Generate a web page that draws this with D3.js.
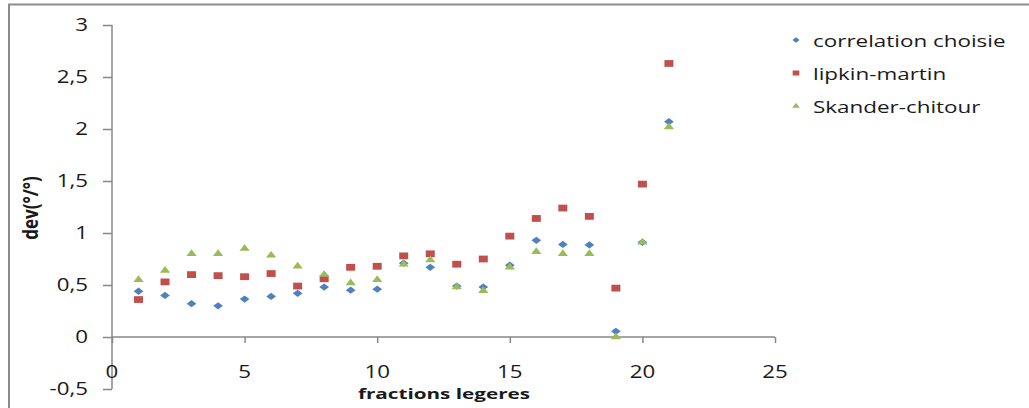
<!DOCTYPE html>
<html>
<head>
<meta charset="utf-8">
<script src="https://cdn.jsdelivr.net/npm/d3@7"></script>
<style>
  html, body { margin: 0; padding: 0; background: #fff; }
  svg { display: block; }
  text { font-family: "Open Sans", "Liberation Sans", sans-serif; fill: #1a1a1a; }
</style>
</head>
<body>
<svg id="chart" width="1029" height="408"></svg>
<script>
// Fraction numbers (x) shared by all three series
const fractions = [1,2,3,4,5,6,7,8,9,10,11,12,13,14,15,16,17,18,19,20,21];

// Deviation values per correlation
const correlationChoisie = [0.44,0.40,0.32,0.30,0.365,0.39,0.42,0.48,0.45,0.46,0.71,0.67,0.49,0.48,0.69,0.93,0.89,0.885,0.055,0.91,2.07];
const lipkinMartin       = [0.36,0.53,0.60,0.59,0.58,0.61,0.49,0.56,0.67,0.68,0.78,0.80,0.70,0.75,0.97,1.14,1.24,1.16,0.47,1.47,2.63];
const skanderChitour     = [0.55,0.64,0.80,0.80,0.85,0.785,0.68,0.60,0.52,0.55,0.70,0.74,0.48,0.445,0.67,0.82,0.80,0.80,0.00,0.91,2.02];

const seriesNames = ["correlation choisie", "lipkin-martin", "Skander-chitour"];

// Axis tick values
const xTicks = [0,5,10,15,20,25];
const yTicks = [-0.5,0,0.5,1,1.5,2,2.5,3];

const colors = ["#4F81BD", "#C0504D", "#9BBB59"];
const shapes = [d3.symbolDiamond2, d3.symbolSquare, d3.symbolTriangle];
const sizes  = [34, 46, 26];
const markerStretch = 1.33;   // markers are drawn wider than tall

const svg = d3.select("#chart");
const axisColor = "#878787";

// Widen text glyphs horizontally while keeping the anchor point in place
function stretch(sel, sx) {
  sel.each(function () {
    const t = d3.select(this);
    const x0 = +t.attr("x") || 0;
    t.attr("x", x0 / sx);
    const tr = t.attr("transform") || "";
    t.attr("transform", (tr + ` scale(${sx},1)`).trim());
  });
}

// Outer frame (top and left edges)
svg.append("path")
  .attr("d", "M9,408 V4.5 H1029")
  .attr("fill", "none")
  .attr("stroke", "#8c8c8c")
  .attr("stroke-width", 2);

const x = d3.scaleLinear().domain([0, 25]).range([112, 775]);
const y = d3.scaleLinear().domain([-0.5, 3]).range([389, 25]);

const fmt = v => String(v).replace(".", ",");

// Y axis
const yAxis = svg.append("g")
  .attr("transform", `translate(${x(0)},0)`)
  .call(d3.axisLeft(y).tickValues(yTicks).tickSize(9).tickPadding(15).tickFormat(fmt));
yAxis.select(".domain").attr("stroke", axisColor).attr("stroke-width", 1.5).attr("d", `M0,${y(-0.5)}V${y(3)}`);
yAxis.selectAll(".tick line").attr("stroke", axisColor).attr("stroke-width", 1.5);
yAxis.selectAll(".tick text").style("font-size", "18px").attr("fill", "#1a1a1a");
stretch(yAxis.selectAll(".tick text"), 1.24);

// X axis line at y = 0, tick labels placed below the plot
const xAxis = svg.append("g")
  .attr("transform", `translate(0,${y(0)})`)
  .call(d3.axisBottom(x).tickValues(xTicks).tickSize(6).tickFormat(""));
xAxis.select(".domain").attr("stroke", axisColor).attr("stroke-width", 1.5).attr("d", `M${x(0)},0H${x(25)}`);
xAxis.selectAll(".tick line").attr("stroke", axisColor).attr("stroke-width", 1.5);

const xLabels = svg.append("g").selectAll("text")
  .data(xTicks)
  .join("text")
  .attr("transform", d => `translate(${x(d)},378)`)
  .attr("text-anchor", "middle")
  .style("font-size", "18px")
  .text(d => d);
stretch(xLabels, 1.24);

// Axis titles
svg.append("text")
  .attr("transform", "translate(444,398.5) scale(1.38,1)")
  .attr("text-anchor", "middle")
  .style("font-size", "15px")
  .style("font-weight", "bold")
  .text("fractions legeres");

svg.append("text")
  .attr("transform", "translate(37.5,208) scale(1.3,1) rotate(-90)")
  .attr("text-anchor", "middle")
  .style("font-size", "17px")
  .style("font-weight", "bold")
  .text("dev(°/°)");

// Scatter points
const allSeries = [correlationChoisie, lipkinMartin, skanderChitour];
allSeries.forEach((vals, i) => {
  svg.append("g").selectAll("path")
    .data(fractions.map((f, k) => [f, vals[k]]))
    .join("path")
    .attr("transform", d => `translate(${x(d[0])},${y(d[1])}) scale(${markerStretch},1)`)
    .attr("d", d3.symbol().type(shapes[i]).size(sizes[i]))
    .attr("fill", colors[i]);
});

// Legend
const legend = svg.append("g");
seriesNames.forEach((name, i) => {
  const ly = 40 + i * 33;
  legend.append("path")
    .attr("transform", `translate(796,${ly}) scale(${markerStretch},1)`)
    .attr("d", d3.symbol().type(shapes[i]).size(sizes[i] * 0.55))
    .attr("fill", colors[i]);
  const t = legend.append("text")
    .attr("transform", `translate(813,${ly + 7})`)
    .style("font-size", "17px")
    .text(name);
  stretch(t, 1.32);
});
</script>
</body>
</html>
